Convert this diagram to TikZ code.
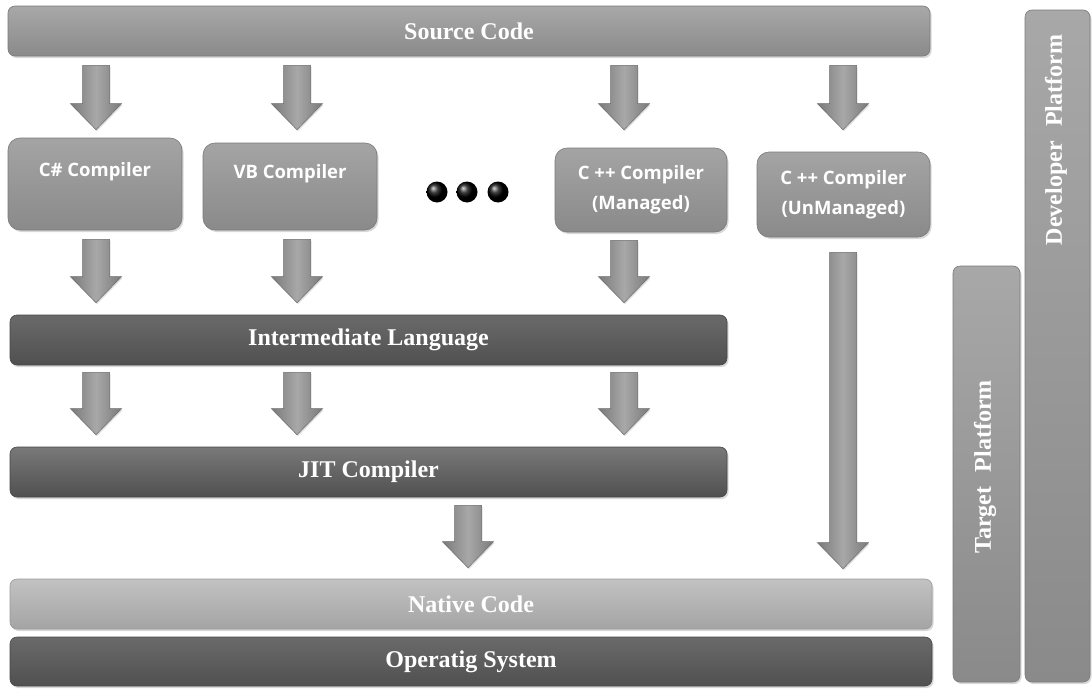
\documentclass[tikz,border=0pt]{standalone}
\usepackage{fontspec}
\setmainfont{Liberation Serif}
\newfontfamily\osans{Open Sans}
\usetikzlibrary{calc,shadows,shadings}
\definecolor{midT}{HTML}{A8A8A8}
\definecolor{midB}{HTML}{8A8A8A}
\definecolor{edgeM}{HTML}{7A7A7A}
\definecolor{darkT}{HTML}{6A6A6A}
\definecolor{darkB}{HTML}{505050}
\definecolor{edgeD}{HTML}{474747}
\definecolor{lightT}{HTML}{C2C2C2}
\definecolor{lightB}{HTML}{A4A4A4}
\definecolor{edgeL}{HTML}{9A9A9A}
\definecolor{boxT}{HTML}{A4A4A4}
\definecolor{boxB}{HTML}{8A8A8A}
\definecolor{arrS}{HTML}{7A7A7A}
\definecolor{arrM}{HTML}{A8A8A8}
\definecolor{arrE}{HTML}{6C6C6C}
\newcommand\blockarrow[2]{%
  \path[blockarr] let \p1=#1, \p2=#2 in
    (\x1-13.5pt,\y1) -- (\x1+13.5pt,\y1) -- (\x1+13.5pt,\y2+26pt) --
    (\x1+25.5pt,\y2+26pt) -- (\x1,\y2) -- (\x1-25.5pt,\y2+26pt) --
    (\x1-13.5pt,\y2+26pt) -- cycle;}
\begin{document}
\begin{tikzpicture}[x=1pt,y=-1pt,
  shad/.style={drop shadow={opacity=0.3,shadow xshift=1.5pt,shadow yshift=-2pt}},
  barbase/.style={rectangle,rounded corners=7pt,line width=0.6pt,shad,
    text=white,font=\fontsize{24}{28}\selectfont\bfseries,inner sep=0pt},
  midbar/.style={barbase,draw=edgeM,top color=midT,bottom color=midB},
  darkbar/.style={barbase,draw=edgeD,top color=darkT,bottom color=darkB},
  lightbar/.style={barbase,draw=edgeL,top color=lightT,bottom color=lightB},
  compbox/.style={rectangle,rounded corners=12pt,line width=0.6pt,shad,
    draw=edgeM,top color=boxT,bottom color=boxB,text=white,
    font=\osans\bfseries\fontsize{18.5}{30}\selectfont,align=center,inner sep=0pt},
  vtext/.style={rotate=90,text=white,font=\fontsize{24}{28}\selectfont\bfseries,inner sep=0pt},
  blockarr/.style={draw=arrE,line width=0.5pt,left color=arrS,right color=arrS,
    middle color=arrM,drop shadow={opacity=0.25,shadow xshift=1pt,shadow yshift=-1.5pt}},
  dotnode/.style={circle,minimum size=21pt,inner sep=0pt,shade,ball color=black}]
\useasboundingbox (0,0) rectangle (1092,688);
\fill[white] (0,0) rectangle (1092,688);
% columns
\coordinate (c1) at (96,0);
\coordinate (c2) at (297,0);
\coordinate (c3) at (624,0);
\coordinate (c4) at (843,0);
\coordinate (c5) at (468,0);
% bars
\node[midbar,minimum width=922pt,minimum height=50pt] (src) at (469,31) {Source Code};
\node[darkbar,minimum width=717pt,minimum height=50pt] (il) at (368.5,340) {Intermediate Language};
\node[darkbar,minimum width=717pt,minimum height=50pt,top color=darkT!90!white] (jit) at (368.5,472) {JIT Compiler};
\node[lightbar,minimum width=922pt,minimum height=50pt] (nat) at (471,604) {Native Code};
\node[darkbar,minimum width=922pt,minimum height=49pt] (os) at (471,661.5) {Operatig System};
% platforms
\node[midbar,minimum width=67pt,minimum height=416pt] (tgt) at (986.5,474) {};
\node[midbar,minimum width=65pt,minimum height=672pt] (dev) at (1057.5,346) {};
\node[vtext] (tgtT) at (985,467) {Target\hspace{0.35em} Platform};
\node[vtext] (devT) at (1056,140) {Developer\hspace{0.35em} Platform};
% compilers
\node[compbox,minimum width=174pt,minimum height=92pt] (csc) at (95,184) {C\# Compiler\\\mbox{}};
\node[compbox,minimum width=174pt,minimum height=87pt] (vbc) at (290,186.5) {VB Compiler\\\mbox{}};
\node[compbox,minimum width=172pt,minimum height=84pt] (mgc) at (641,190) {C ++ Compiler\\(Managed)};
\node[compbox,minimum width=173pt,minimum height=85pt] (umc) at (843.5,194.5) {C ++ Compiler\\(UnManaged)};
% dots
\node[dotnode] (d1) at (437,192) {};
\node[dotnode] (d2) at (467,192) {};
\node[dotnode] (d3) at (498,192) {};
% arrows: source -> compilers
\blockarrow{($(src.south -| c1)+(0,9)$)}{($(csc.north -| c1)+(0,-8)$)}
\blockarrow{($(src.south -| c2)+(0,9)$)}{($(vbc.north -| c2)+(0,-13)$)}
\blockarrow{($(src.south -| c3)+(0,9)$)}{($(mgc.north -| c3)+(0,-18)$)}
\blockarrow{($(src.south -| c4)+(0,9)$)}{($(umc.north -| c4)+(0,-22)$)}
% compilers -> IL
\blockarrow{($(csc.south -| c1)+(0,9)$)}{($(il.north -| c1)+(0,-12)$)}
\blockarrow{($(vbc.south -| c2)+(0,9)$)}{($(il.north -| c2)+(0,-12)$)}
\blockarrow{($(mgc.south -| c3)+(0,8)$)}{($(il.north -| c3)+(0,-12)$)}
% IL -> JIT
\blockarrow{($(il.south -| c1)+(0,7)$)}{($(jit.north -| c1)+(0,-12)$)}
\blockarrow{($(il.south -| c2)+(0,7)$)}{($(jit.north -| c2)+(0,-12)$)}
\blockarrow{($(il.south -| c3)+(0,7)$)}{($(jit.north -| c3)+(0,-12)$)}
% JIT -> native
\blockarrow{($(jit.south -| c5)+(0,8)$)}{($(nat.north -| c5)+(0,-11)$)}
% unmanaged -> native
\blockarrow{($(umc.south -| c4)+(0,15)$)}{($(nat.north -| c4)+(0,-10)$)}
\end{tikzpicture}
\end{document}
